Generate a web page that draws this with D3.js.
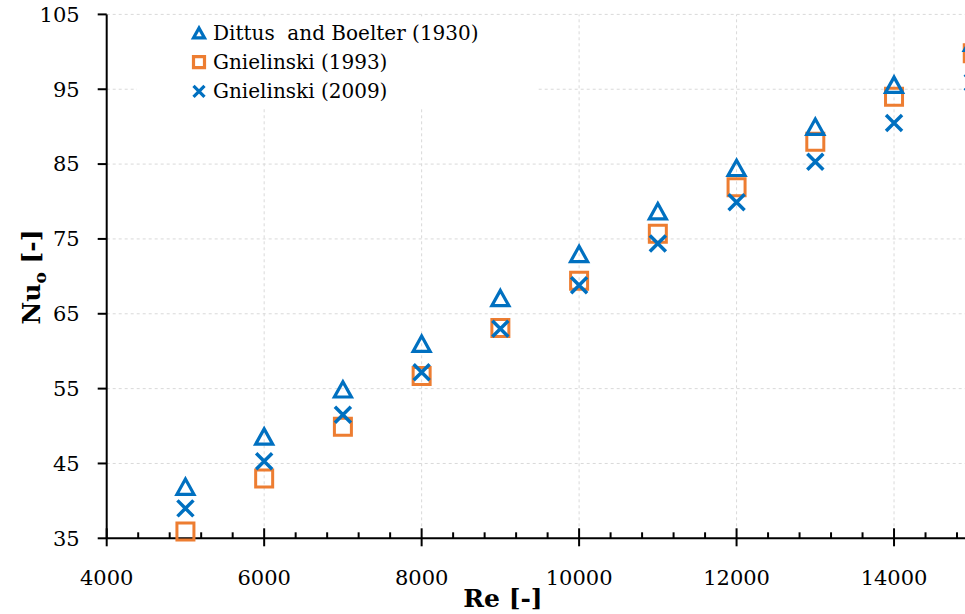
<!DOCTYPE html>
<html lang="en">
<head>
    <meta charset="UTF-8">
    <title>Nu vs Re</title>
    <script src="https://d3js.org/d3.v7.min.js"></script>
    <style>
        body { margin: 0; background: #fff; }
        text { font-family: "DejaVu Serif", serif; fill: #000; }
        .grid line { stroke: #d9d9d9; stroke-width: 1px; stroke-dasharray: 3,3; }
        .axis path, .axis line { stroke: #000; stroke-width: 2px; }
    </style>
</head>
<body>
    <svg width="965" height="614"></svg>
    <script>
        // Re values
        const re = [5000, 6000, 7000, 8000, 9000, 10000, 11000, 12000, 13000, 14000, 15000];
        // Nu_o per correlation
        const dittus = [41.9, 48.6, 54.9, 61.0, 67.1, 73.0, 78.7, 84.5, 90.0, 95.6, 101.2];
        const gnielinski1993 = [35.9, 43.0, 49.9, 56.7, 63.1, 69.4, 75.7, 81.9, 88.0, 94.0, 99.8];
        const gnielinski2009 = [39.0, 45.3, 51.5, 57.2, 63.0, 68.8, 74.4, 79.9, 85.3, 90.5, 95.9];

        const xTicks = [4000, 6000, 8000, 10000, 12000, 14000];
        const yTicks = [35, 45, 55, 65, 75, 85, 95, 105];
        const legendLabels = ["Dittus  and Boelter (1930)", "Gnielinski (1993)", "Gnielinski (2009)"];

        const blue = "#0070C0", orange = "#ED7D31";

        const svg = d3.select("svg");

        // axis runs on past the right edge of the picture (cropped at 16000)
        const x = d3.scaleLinear().domain([4000, 16000]).range([106.7, 1051.5]);
        const y = d3.scaleLinear().domain([35, 105]).range([538.3, 14.4]);

        // grid
        const grid = svg.append("g").attr("class", "grid");
        grid.selectAll(".h").data(yTicks.slice(1)).enter().append("line")
            .attr("x1", x(4000)).attr("x2", x(16000))
            .attr("y1", d => y(d)).attr("y2", d => y(d));
        grid.selectAll(".v").data(xTicks.slice(1).concat([16000])).enter().append("line")
            .attr("x1", d => x(d)).attr("x2", d => x(d))
            .attr("y1", y(35)).attr("y2", y(105));

        // legend background hides grid
        svg.append("rect")
            .attr("x", 137).attr("y", 18).attr("width", 401).attr("height", 90)
            .attr("fill", "#fff");

        // x axis, minor ticks
        const xAxisG = svg.append("g").attr("class", "axis")
            .attr("transform", `translate(0,${y(35)})`);
        xAxisG.append("line").attr("x1", x(4000)).attr("x2", x(16000)).attr("y1", 0).attr("y2", 0);
        xAxisG.selectAll(".minor").data(d3.range(4000, 16001, 400).filter(d => d % 2000 !== 0))
            .enter().append("line")
            .attr("x1", d => x(d)).attr("x2", d => x(d)).attr("y1", 0).attr("y2", -6);
        xAxisG.selectAll(".major").data(xTicks).enter().append("line")
            .attr("x1", d => x(d)).attr("x2", d => x(d)).attr("y1", -10).attr("y2", 8);
        xAxisG.selectAll("text").data(xTicks).enter().append("text")
            .attr("x", d => x(d)).attr("y", 47)
            .attr("text-anchor", "middle")
            .style("font-size", "21px")
            .text(d => d);

        // y axis
        const yAxisG = svg.append("g").attr("class", "axis")
            .attr("transform", `translate(${x(4000)},0)`);
        yAxisG.append("line").attr("x1", 0).attr("x2", 0).attr("y1", y(105)).attr("y2", y(35));
        yAxisG.selectAll(".major").data(yTicks).enter().append("line")
            .attr("x1", -9).attr("x2", 0).attr("y1", d => y(d)).attr("y2", d => y(d));
        yAxisG.selectAll("text").data(yTicks).enter().append("text")
            .attr("x", -27).attr("y", d => y(d)).attr("dy", "0.35em")
            .attr("text-anchor", "end")
            .style("font-size", "21px")
            .text(d => d);

        // axis titles
        svg.append("text")
            .attr("x", 503).attr("y", 607)
            .attr("text-anchor", "middle")
            .style("font-size", "25px").style("font-weight", "bold")
            .text("Re [-]");

        const yTitle = svg.append("text")
            .attr("transform", "translate(40,277) rotate(-90)")
            .attr("text-anchor", "middle")
            .style("font-size", "25px").style("font-weight", "bold");
        yTitle.append("tspan").text("Nu");
        yTitle.append("tspan").attr("dy", 6).style("font-size", "17px").text("o");
        yTitle.append("tspan").attr("dy", -6).text(" [-]");

        // marker shapes
        function triangle(s) {
            const h = s * 0.9;
            return `M0,${-h / 2}L${s / 2},${h / 2}L${-s / 2},${h / 2}Z`;
        }
        function square(s) {
            return `M${-s / 2},${-s / 2}h${s}v${s}h${-s}Z`;
        }
        function cross(s) {
            return `M${-s / 2},${-s / 2}L${s / 2},${s / 2}M${-s / 2},${s / 2}L${s / 2},${-s / 2}`;
        }

        const series = [
            { name: legendLabels[0], values: dittus, color: blue, shape: triangle, size: 17, sw: 3.2 },
            { name: legendLabels[1], values: gnielinski1993, color: orange, shape: square, size: 17, sw: 3 },
            { name: legendLabels[2], values: gnielinski2009, color: blue, shape: cross, size: 16, sw: 3.5 }
        ];

        // squares first, then triangles, then crosses
        const drawOrder = [series[1], series[0], series[2]];
        const pts = svg.append("g");
        drawOrder.forEach(s => {
            pts.append("g").selectAll("path")
                .data(re.map((r, i) => ({ r: r, v: s.values[i] })))
                .enter().append("path")
                .attr("transform", d => `translate(${x(d.r)},${y(d.v)})`)
                .attr("d", s.shape(s.size))
                .attr("fill", "none")
                .attr("stroke", s.color)
                .attr("stroke-width", s.sw)
                .attr("stroke-linejoin", "miter");
        });

        // legend
        const legend = svg.append("g").attr("transform", "translate(199,33)");
        series.forEach((s, i) => {
            const row = legend.append("g").attr("transform", `translate(0,${i * 29.2})`);
            row.append("path")
                .attr("d", s.shape(11))
                .attr("fill", "none")
                .attr("stroke", s.color)
                .attr("stroke-width", 3.2);
            row.append("text")
                .attr("x", 14).attr("y", 7)
                .style("font-size", "20px")
                .style("white-space", "pre")
                .text(s.name);
        });
    </script>
</body>
</html>
